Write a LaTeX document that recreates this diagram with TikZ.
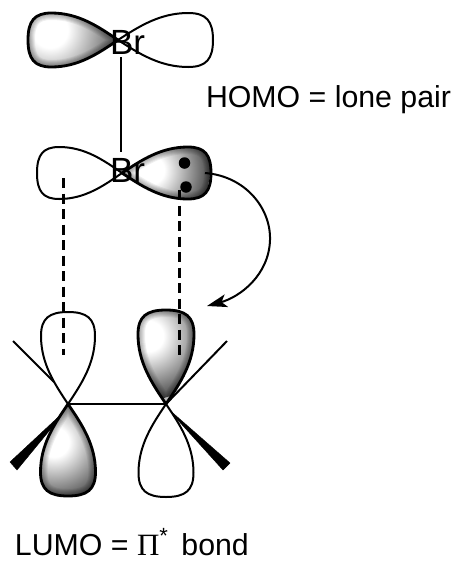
\documentclass[tikz,border=0pt]{standalone}
\usepackage{fontspec}
\setmainfont{Liberation Sans}
\newfontfamily\pifont{Liberation Serif}
\usetikzlibrary{arrows.meta,calc}
\pgfdeclareradialshading{lobeshade}{\pgfpointorigin}{color(0bp)=(white);color(6bp)=(white);color(16bp)=(black!38);color(26bp)=(black!75);color(35bp)=(black);color(50bp)=(black)}
% unit teardrop: tip at origin, pointing along +x
\newcommand{\lobeshape}{(0,0) .. controls (.22,-.5) and (.44,-1) .. (.74,-1) .. controls (.93,-1) and (1,-.7) .. (1,0) .. controls (1,.7) and (.93,1) .. (.74,1) .. controls (.44,1) and (.22,.5) .. (0,0) -- cycle}
% #1 tip x, #2 tip y, #3 x-axis vector, #4 y-axis vector
\newcommand{\openlobe}[4]{\draw[lobeline,fill=white,cm={#3,#4,(#1,#2)}] \lobeshape;}
% #5 highlight centre, #6 radius
\newcommand{\fulllobe}[6]{%
  \begin{scope}
    \clip[cm={#3,#4,(#1,#2)}] \lobeshape;
    \shade[shading=lobeshade] (#5) circle (#6);
    \foreach \w in {2,4,...,14}{\draw[black,opacity=.06,line width=\w pt,cm={#3,#4,(#1,#2)}] \lobeshape;}
  \end{scope}
  \draw[lobeline,line width=2.8pt,cm={#3,#4,(#1,#2)}] \lobeshape;}
\tikzset{
  x=1pt,y=-1pt,
  lobeline/.style={line width=2pt,black,line join=round},
  bondline/.style={line width=2pt,black},
  dashline/.style={line width=2.5pt,black,dash pattern=on 10pt off 5.5pt},
  label/.style={inner sep=0pt,outer sep=0pt,anchor=base west,font=\fontsize{30.3}{32}\selectfont,text=black},
  atom/.style={inner sep=0pt,outer sep=0pt,anchor=base west,font=\fontsize{35}{37}\selectfont,text=black},
  wedgefill/.style={fill=black,draw=black,line width=.4pt,line join=round},
  lonedot/.style={circle,fill=black,inner sep=0pt,minimum size=11.5pt}
}
\begin{document}
\begin{tikzpicture}
\useasboundingbox (0,0) rectangle (457,563);
\fill[white] (0,0) rectangle (457,563);
% bottom substituents
\coordinate (bl) at (68,404);
\coordinate (br) at (166,404);
\coordinate (ll) at (13,341);
\coordinate (llend) at (54,382);
\coordinate (rl) at (227,341);
\draw[bondline] (llend) -- (ll);
\draw[bondline] (br) -- (rl);
\draw[bondline] (bl) -- (br);
\fill[wedgefill] (68,408) -- (10,462) -- (17,470) -- cycle;
\fill[wedgefill] (166,407) -- (230,463) -- (223,470) -- cycle;
% bottom p orbitals
\openlobe{68}{404}{0,92}{27,0}{0}{0}
\fulllobe{68}{404}{0,-92}{27.5,0}{54,442}{62}
\fulllobe{166}{404}{0,94}{28,0}{148,336}{64}
\openlobe{166}{404}{0,-93}{27.5,0}{0}{0}
% Br2 orbitals
\fulllobe{118}{40}{-90,0}{0,27}{50,30}{74}
\openlobe{118}{40}{95,0}{0,27}{0}{0}
\openlobe{122}{173}{-85,0}{0,26}{0}{0}
\fulllobe{122}{173}{89,0}{0,26}{150,170}{60}
% lone pair dots
\node[lonedot] (d1) at (184.5,163) {};
\node[lonedot] (d2) at (186,187) {};
% atoms
\node[atom] (brtop) at (110,54) {Br};
\node[atom] (brbot) at (110,182) {Br};
\draw[bondline] ([xshift=10.5pt,yshift=-3pt]brtop.base west) -- ([xshift=10.5pt,yshift=30pt]brbot.base west);
% overlap dashes
\coordinate (a1) at (63.3,178);
\coordinate (a2) at (63.3,355);
\coordinate (b1) at (179.5,190);
\coordinate (b2) at (179.5,357);
\draw[dashline] (a1) -- (a2);
\draw[dashline] (b1) -- (b2);
% curved arrow
\coordinate (c1) at (205,173);
\coordinate (c2) at (207,306);
\draw[line width=2pt,-{Stealth[length=20pt,width=13pt,inset=5pt]}] (c1) .. controls (245,176) and (271,208) .. (270,240) .. controls (269,275) and (240,297) .. (c2);
% texts
\node[label] (homo) at (206,107) {HOMO = lone pair};
\node[label] (lumo) at (15,555) {LUMO = {\pifont\fontsize{31}{32}\selectfont Π}\raisebox{12pt}{\fontsize{22}{24}\selectfont *}\hspace{5pt} bond};
\end{tikzpicture}
\end{document}
